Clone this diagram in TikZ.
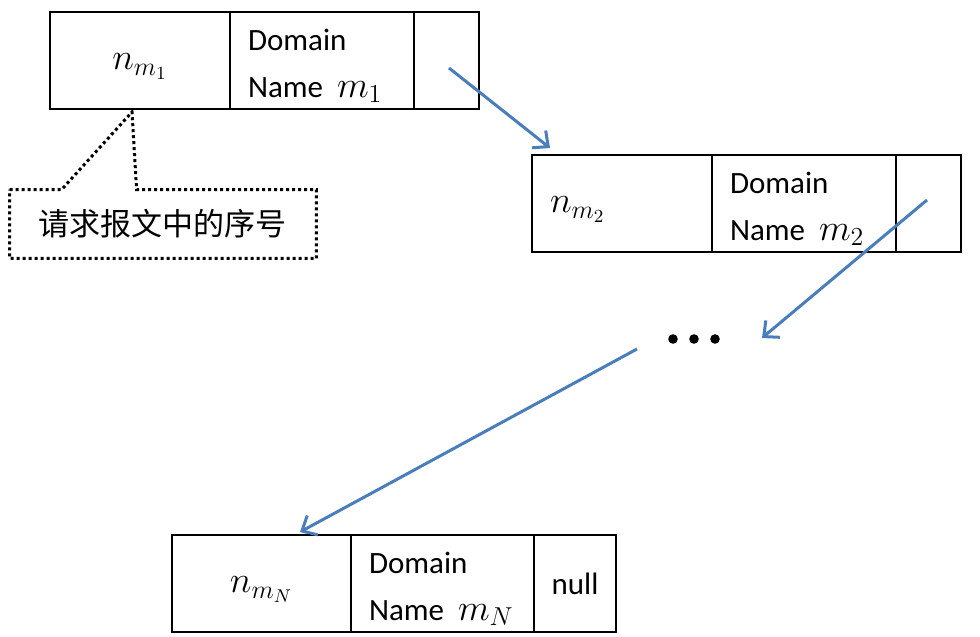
\RequirePackage{fix-cm}
\documentclass[tikz,border=0pt]{standalone}
\usepackage{fontspec}
\setmainfont{Carlito}
\newfontfamily\cjk{Noto Sans CJK SC}
\usetikzlibrary{positioning,arrows.meta,calc}
\definecolor{lnk}{HTML}{4A7EBB}
\newcommand{\mbig}[1]{{\fontsize{18.5pt}{22pt}\selectfont$#1$}}
\newcommand{\nlab}[1]{\raisebox{-4.6pt}[0pt][0pt]{\mbig{n_{m_{#1}}}}}
\newcommand{\dname}[1]{\rule{0pt}{16pt}Domain\\Name\hspace{7pt}\mbig{m_{#1}}}
\tikzset{
  cell/.style     = {draw, line width=0.75pt, minimum height=48.5pt,
                     inner sep=0pt, outer sep=0pt, anchor=north west},
  namecell/.style = {cell, align=left, inner xsep=9pt},
  link/.style     = {draw=lnk, line width=1.5pt,
                     -{Straight Barb[length=6pt,width=11pt]}},
  noteline/.style = {draw=black, line width=1.5pt, dash pattern=on 1.5pt off 1.5pt},
}
\begin{document}
\begin{tikzpicture}[x=0.5pt,y=-0.5pt,font=\fontsize{15.5pt}{23.5pt}\selectfont]
  \useasboundingbox (0,0) rectangle (980,637);
  % first record
  \node[cell,minimum width=90pt] (a1) at (50,12) {\nlab{1}};
  \node[namecell,text width=74pt,right=0pt of a1] (b1) {\dname{1}};
  \node[cell,minimum width=32.5pt,right=0pt of b1] (c1) {};
  % second record
  \node[namecell,text width=72pt] (a2) at (532,155) {\nlab{2}};
  \node[namecell,text width=74pt,right=0pt of a2] (b2) {\dname{2}};
  \node[cell,minimum width=32.5pt,right=0pt of b2] (c2) {};
  % last record
  \node[cell,minimum width=89.5pt] (a3) at (172,535) {\nlab{N}};
  \node[namecell,text width=73.5pt,right=0pt of a3] (b3) {\dname{N}};
  \node[cell,minimum width=41pt,right=0pt of b3] (c3) {null};
  % dots between records
  \foreach \x in {673,694,715}{
    \fill (\x,339) circle (2.4pt);}
  \coordinate (s1) at (449,68);
  \coordinate (e1) at (550,148);
  \coordinate (s2) at (927,200);
  \coordinate (e2) at (762,338);
  \coordinate (s3) at (637,349);
  \coordinate (e3) at (300,532);
  \draw[link] (s1) -- (e1);
  \draw[link] (s2) -- (e2);
  \draw[link] (s3) -- (e3);
  % callout
  \node[font=\cjk\fontsize{15.5pt}{18pt}\selectfont,minimum width=153pt,
        minimum height=34pt,inner sep=0pt] (note) at (163,224) {请求报文中的序号};
  \coordinate (tip) at ($(a1.south)+(-8,3)$);
  \draw[noteline] (note.north west) -- ($(note.north west)+(52,0)$) -- (tip)
    -- ($(note.north west)+(127,0)$) -- (note.north east) -- (note.south east)
    -- (note.south west) -- cycle;
\end{tikzpicture}
\end{document}
